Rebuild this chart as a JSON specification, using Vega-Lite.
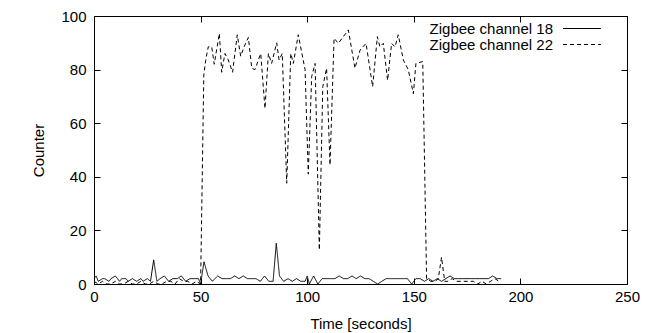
{
  "$schema": "https://vega.github.io/schema/vega-lite/v6.json",
  "width": 533,
  "height": 268,
  "autosize": "none",
  "padding": {"left": 94, "top": 16, "right": 37, "bottom": 49},
  "background": "white",
  "config": {
    "font": "Liberation Sans",
    "view": {"stroke": "black", "strokeWidth": 1},
    "axis": {"labelFont": "Liberation Sans", "titleFont": "Liberation Sans", "labelFontSize": 15, "titleFontSize": 15, "titleFontWeight": "normal", "labelColor": "black", "titleColor": "black", "domain": false, "grid": false, "tickColor": "black", "tickSize": -6, "labelFlush": false, "labelOverlap": false}
  },
  "datasets": {
    "ch18": [
      {"t":0,"v":2},{"t":1,"v":3},{"t":2,"v":1},{"t":4,"v":2},{"t":5,"v":2},{"t":7,"v":1},{"t":8,"v":2},{"t":10,"v":3},{"t":12,"v":1},{"t":13,"v":2},{"t":15,"v":2},{"t":16,"v":1},{"t":18,"v":2},{"t":20,"v":1},{"t":22,"v":2},{"t":23,"v":1},{"t":25,"v":2},{"t":26.5,"v":1},{"t":28,"v":9},{"t":29.5,"v":1},{"t":31,"v":2},{"t":33,"v":3},{"t":35,"v":1},{"t":37,"v":2},{"t":39,"v":2},{"t":41,"v":3},{"t":43,"v":1},{"t":45,"v":2},{"t":47,"v":2},{"t":49,"v":2},{"t":50,"v":0},{"t":51.6,"v":8.3},{"t":53.5,"v":3},{"t":55.5,"v":1},{"t":58,"v":3},{"t":60,"v":2},{"t":62,"v":2},{"t":64,"v":2},{"t":66,"v":3},{"t":68,"v":2},{"t":70,"v":3},{"t":72,"v":2},{"t":74,"v":2},{"t":76,"v":2},{"t":78,"v":1},{"t":80,"v":3},{"t":82,"v":1},{"t":84,"v":1},{"t":85.5,"v":15.2},{"t":87,"v":3},{"t":89,"v":1},{"t":91,"v":2},{"t":93,"v":1},{"t":95,"v":2},{"t":97,"v":1},{"t":99,"v":1},{"t":100,"v":3},{"t":101,"v":0},{"t":103,"v":3},{"t":105,"v":0},{"t":107,"v":2},{"t":109,"v":2},{"t":111,"v":2},{"t":113,"v":2},{"t":115,"v":3},{"t":117,"v":2},{"t":119,"v":2},{"t":121,"v":3},{"t":123,"v":2},{"t":125,"v":3},{"t":127,"v":2},{"t":129,"v":2},{"t":131,"v":1},{"t":133,"v":0},{"t":135,"v":1},{"t":137,"v":2},{"t":139,"v":2},{"t":141,"v":2},{"t":143,"v":2},{"t":145,"v":2},{"t":147,"v":2},{"t":149,"v":0},{"t":151,"v":2},{"t":153,"v":2},{"t":155,"v":1},{"t":157,"v":2},{"t":159,"v":1},{"t":161,"v":2},{"t":163,"v":1},{"t":165,"v":2},{"t":167,"v":3},{"t":169,"v":2},{"t":171,"v":2},{"t":173,"v":2},{"t":175,"v":2},{"t":177,"v":2},{"t":179,"v":2},{"t":181,"v":2},{"t":183,"v":2},{"t":185,"v":2},{"t":187,"v":3},{"t":189,"v":2},{"t":191,"v":2}
    ],
    "ch22": [
      {"t":0,"v":1},{"t":2,"v":0},{"t":4,"v":1},{"t":6,"v":0},{"t":8,"v":0},{"t":10,"v":1},{"t":12,"v":0},{"t":14,"v":0},{"t":16,"v":1},{"t":18,"v":0},{"t":20,"v":0},{"t":22,"v":1},{"t":24,"v":0},{"t":26,"v":0},{"t":28,"v":1},{"t":30,"v":0},{"t":32,"v":0},{"t":34,"v":1},{"t":36,"v":1},{"t":38,"v":0},{"t":40,"v":2},{"t":42,"v":1},{"t":44,"v":1},{"t":46,"v":0},{"t":48,"v":1},{"t":50,"v":0},
      {"t":51.5,"v":78},{"t":52.5,"v":84},{"t":53.6,"v":88.5},{"t":55.2,"v":88.5},{"t":56.4,"v":82},{"t":58.8,"v":93.5},{"t":59.9,"v":79},{"t":61.4,"v":86},{"t":63,"v":83.6},{"t":65,"v":79},{"t":67.2,"v":93},{"t":68.8,"v":85},{"t":70.4,"v":88.5},{"t":72.4,"v":92},{"t":74,"v":80.5},{"t":75.5,"v":80},{"t":78.2,"v":86},{"t":80.2,"v":65.5},{"t":81.8,"v":86},{"t":83.3,"v":82.3},{"t":85.7,"v":90},{"t":86.8,"v":83.6},{"t":88.3,"v":86},{"t":90.4,"v":37.6},{"t":92.3,"v":86},{"t":93.5,"v":82.3},{"t":95.8,"v":93},{"t":99,"v":80},{"t":100.5,"v":41},{"t":102.1,"v":77.4},{"t":103.7,"v":82.3},{"t":105.7,"v":12.7},{"t":107.3,"v":73.6},{"t":109.1,"v":80.5},{"t":110.7,"v":44.4},{"t":112.6,"v":91.7},{"t":114.6,"v":89.8},{"t":119.3,"v":94.8},{"t":122.4,"v":80.5},{"t":124.8,"v":87.3},{"t":127.6,"v":89.8},{"t":130.7,"v":73.6},{"t":132.9,"v":92.3},{"t":134.1,"v":88.5},{"t":135.7,"v":89.8},{"t":137.7,"v":76},{"t":139.6,"v":89.8},{"t":141.2,"v":88.5},{"t":142.7,"v":93},{"t":145.1,"v":83.6},{"t":147.4,"v":80},{"t":149.8,"v":71},{"t":151,"v":82.3},{"t":154.2,"v":83},
      {"t":156,"v":2},{"t":158,"v":1},{"t":160,"v":1},{"t":161.5,"v":2},{"t":163,"v":10},{"t":164.5,"v":1},{"t":166,"v":1},{"t":168,"v":2},{"t":170,"v":1},{"t":172,"v":1},{"t":174,"v":1},{"t":176,"v":1},{"t":178,"v":1},{"t":180,"v":0},{"t":182,"v":1},{"t":184,"v":0},{"t":186,"v":1},{"t":188,"v":2},{"t":190,"v":1}
    ]
  },
  "layer": [
    {
      "data": {"name": "ch18"},
      "transform": [{"calculate": "'Zigbee channel 18'", "as": "series"}],
      "mark": {"type": "line", "strokeWidth": 1, "color": "black", "clip": true},
      "encoding": {
        "x": {"field": "t", "type": "quantitative", "scale": {"domain": [0, 250], "nice": false}, "axis": {"title": "Time [seconds]", "values": [0, 50, 100, 150, 200, 250], "labelPadding": 11, "titlePadding": 12}},
        "y": {"field": "v", "type": "quantitative", "scale": {"domain": [0, 100], "nice": false}, "axis": {"title": "Counter", "values": [0, 20, 40, 60, 80, 100], "labelPadding": 14, "titlePadding": 14}},
        "strokeDash": {"field": "series", "type": "nominal", "scale": {"domain": ["Zigbee channel 18", "Zigbee channel 22"], "range": [[1, 0], [4, 3]]},
          "legend": {"title": null, "orient": "none", "legendX": 459, "legendY": 5, "padding": 0, "symbolType": "M-4,0H4", "symbolSize": 90, "symbolStrokeColor": "black", "symbolStrokeWidth": 1, "symbolFillColor": "transparent", "labelFontSize": 15, "labelFont": "Liberation Sans", "labelColor": "black", "rowPadding": 0,
            "encode": {"labels": {"update": {"x": {"value": 0}, "align": {"value": "right"}}}, "symbols": {"update": {"x": {"value": 29}}}}}}
      }
    },
    {
      "data": {"name": "ch22"},
      "transform": [{"calculate": "'Zigbee channel 22'", "as": "series"}],
      "mark": {"type": "line", "strokeWidth": 1, "color": "black", "clip": true},
      "encoding": {
        "x": {"field": "t", "type": "quantitative", "axis": {"orient": "top", "labels": false, "title": null, "values": [0, 50, 100, 150, 200, 250]}},
        "y": {"field": "v", "type": "quantitative", "axis": {"orient": "right", "labels": false, "title": null, "values": [0, 20, 40, 60, 80, 100]}},
        "strokeDash": {"field": "series", "type": "nominal"}
      }
    }
  ],
  "resolve": {"axis": {"x": "independent", "y": "independent"}}
}
